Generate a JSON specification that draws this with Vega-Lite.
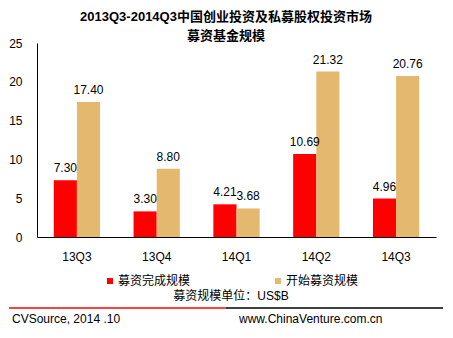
{
  "$schema": "https://vega.github.io/schema/vega-lite/v6.json",
  "padding": {"left": 8, "top": 11, "right": 10, "bottom": 5},
  "background": "white",
  "config": {
    "view": {"stroke": null},
    "font": "Arial, Liberation Sans, Noto Sans CJK SC",
    "concat": {"spacing": 5}
  },
  "title": {
    "text": ["2013Q3-2014Q3中国创业投资及私募股权投资市场", "募资基金规模"],
    "fontSize": 13,
    "fontWeight": "bold",
    "lineHeight": 19,
    "anchor": "middle",
    "offset": -6,
    "color": "black"
  },
  "resolve": {"legend": {"color": "independent"}},
  "vconcat": [
    {
      "width": 399,
      "height": 194,
      "data": {
        "values": [
          {"q": "13Q3", "type": "募资完成规模", "v": 7.30},
          {"q": "13Q3", "type": "开始募资规模", "v": 17.40},
          {"q": "13Q4", "type": "募资完成规模", "v": 3.30},
          {"q": "13Q4", "type": "开始募资规模", "v": 8.80},
          {"q": "14Q1", "type": "募资完成规模", "v": 4.21},
          {"q": "14Q1", "type": "开始募资规模", "v": 3.68},
          {"q": "14Q2", "type": "募资完成规模", "v": 10.69},
          {"q": "14Q2", "type": "开始募资规模", "v": 21.32},
          {"q": "14Q3", "type": "募资完成规模", "v": 4.96},
          {"q": "14Q3", "type": "开始募资规模", "v": 20.76}
        ]
      },
      "encoding": {
        "x": {
          "field": "q", "type": "nominal", "sort": null,
          "scale": {"paddingInner": 0.42, "paddingOuter": 0.21},
          "axis": {"title": null, "labelAngle": 0, "ticks": false, "domainColor": "black", "labelFontSize": 12, "labelColor": "black", "labelPadding": 14}
        },
        "y": {
          "field": "v", "type": "quantitative",
          "scale": {"domain": [0, 25]},
          "axis": {"title": null, "values": [0, 5, 10, 15, 20, 25], "grid": false, "ticks": false, "domainColor": "black", "labelFontSize": 12, "labelColor": "black", "labelPadding": 15}
        },
        "xOffset": {"field": "type", "type": "nominal", "sort": ["募资完成规模", "开始募资规模"]}
      },
      "layer": [
        {
          "mark": {"type": "bar"},
          "encoding": {
            "color": {
              "field": "type", "type": "nominal", "sort": ["募资完成规模", "开始募资规模"],
              "scale": {"range": ["#FF0000", "#E5B86F"]},
              "legend": {
                "orient": "none", "legendX": 67, "legendY": 232, "direction": "horizontal",
                "title": "募资规模单位：US$B", "titleOrient": "bottom", "titleAnchor": "middle",
                "titleFontSize": 12, "titleFontWeight": "normal", "titleColor": "black",
                "labelFontSize": 12, "labelColor": "black",
                "symbolType": "square", "symbolSize": 36, "symbolStrokeWidth": 0,
                "columnPadding": 81, "labelOffset": 2, "titlePadding": 4
              }
            }
          }
        },
        {
          "mark": {"type": "text", "dy": -8, "baseline": "alphabetic", "fontSize": 12, "color": "black"},
          "encoding": {"text": {"field": "v", "type": "quantitative", "format": ".2f"}}
        }
      ]
    },
    {
      "width": 406,
      "height": 15,
      "data": {
        "values": [
          {"part": "left", "label": "CVSource, 2014 .10"},
          {"part": "right", "label": "www.ChinaVenture.com.cn"}
        ]
      },
      "layer": [
        {
          "transform": [{"filter": "datum.part === 'left'"}],
          "mark": {"type": "rule", "color": "#FF0000", "strokeWidth": 1.5},
          "encoding": {
            "x": {"datum": 0, "type": "quantitative", "scale": {"domain": [0.0645, 1], "nice": false, "zero": false}, "axis": null},
            "x2": {"datum": 0.5},
            "y": {"datum": 1, "type": "quantitative", "scale": {"domain": [0, 1], "nice": false}, "axis": null}
          }
        },
        {
          "transform": [{"filter": "datum.part === 'right'"}],
          "mark": {"type": "rule", "color": "black", "strokeWidth": 1.5},
          "encoding": {
            "x": {"datum": 0.5, "type": "quantitative"},
            "x2": {"datum": 1},
            "y": {"datum": 1, "type": "quantitative"}
          }
        },
        {
          "transform": [{"filter": "datum.part === 'left'"}],
          "mark": {"type": "text", "align": "left", "baseline": "alphabetic", "fontSize": 12, "color": "black", "dx": 3},
          "encoding": {
            "x": {"datum": 0, "type": "quantitative"},
            "y": {"datum": 0, "type": "quantitative"},
            "text": {"field": "label"}
          }
        },
        {
          "transform": [{"filter": "datum.part === 'right'"}],
          "mark": {"type": "text", "align": "left", "baseline": "alphabetic", "fontSize": 12, "color": "black"},
          "encoding": {
            "x": {"datum": 0.53, "type": "quantitative"},
            "y": {"datum": 0, "type": "quantitative"},
            "text": {"field": "label"}
          }
        }
      ]
    }
  ]
}
